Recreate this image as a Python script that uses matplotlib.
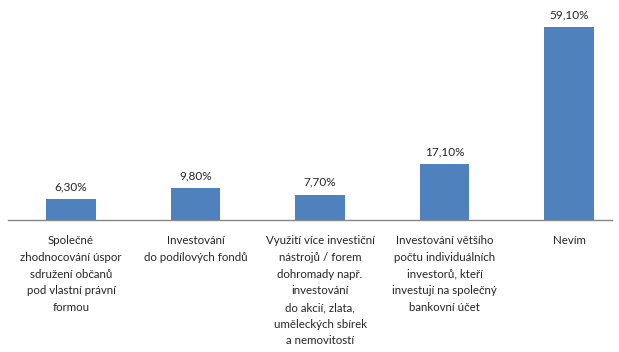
import matplotlib
matplotlib.use("Agg")
import matplotlib.pyplot as plt

categories = [
    "Společné\nzhodnocování úspor\nsdružení občanů\npod vlastní právní\nformou",
    "Investování\ndo podílových fondů",
    "Využití více investiční\nnástrojů / forem\ndohromady např.\ninvestování\ndo akcií, zlata,\numěleckých sbírek\na nemovitostí",
    "Investování většího\npočtu individuálních\ninvestorů, kteří\ninvestují na společný\nbankovní účet",
    "Nevím",
]
values = [6.3, 9.8, 7.7, 17.1, 59.1]
value_labels = ["6,30%", "9,80%", "7,70%", "17,10%", "59,10%"]

plt.rcParams['font.family'] = ['Lato', 'DejaVu Sans']

W, H = 619, 352
fig = plt.figure(figsize=(W / 100, H / 100), dpi=100)
ax = fig.add_axes([8 / W, (H - 220) / H, 604 / W, 220 / H])

x = list(range(len(values)))
ax.bar(x, values, width=0.4, color="#4F81BD", zorder=2)
ax.set_xlim(-0.506, 4.345)
ax.set_ylim(0, 220 / 3.266)

for xi, v, lab in zip(x, values, value_labels):
    ax.annotate(lab, (xi, v), xytext=(0, 5), textcoords="offset points",
                ha="center", va="bottom", fontsize=8.5, color="#262626")

for xi, cat in zip(x, categories):
    ax.annotate(cat, (xi, 0), xytext=(0, -11), textcoords="offset points",
                ha="center", va="top", fontsize=8.3, color="#262626",
                linespacing=1.63)

for s in ["top", "right", "left"]:
    ax.spines[s].set_visible(False)
ax.spines["bottom"].set_color("#868686")
ax.spines["bottom"].set_linewidth(1.0)
ax.set_xticks([])
ax.set_yticks([])

fig.savefig("out.png", dpi=100, facecolor="white")
